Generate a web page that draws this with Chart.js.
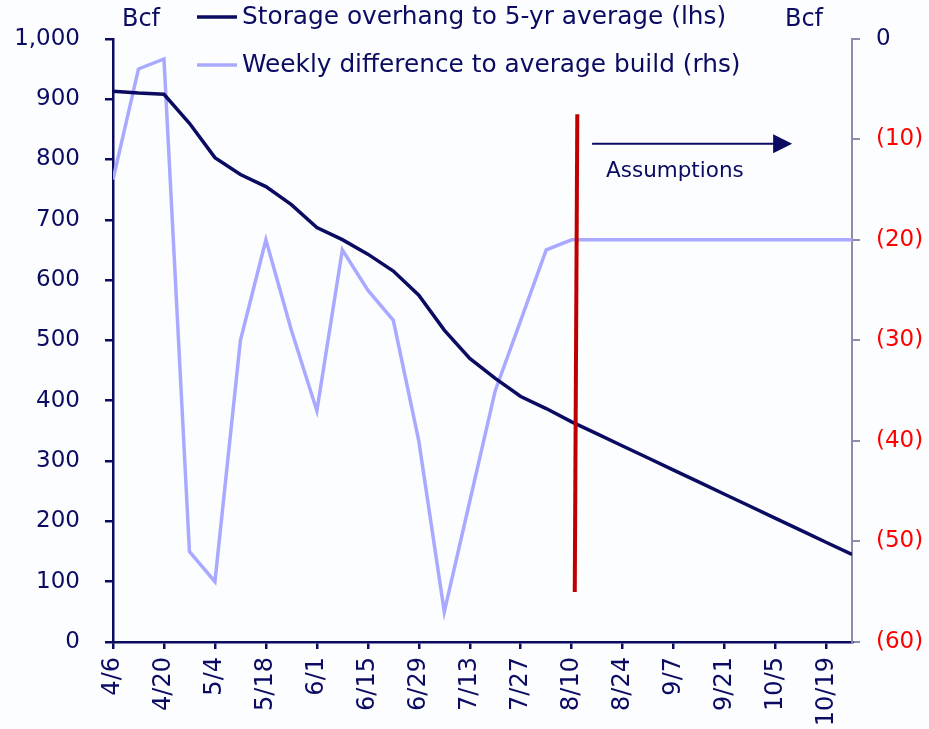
<!DOCTYPE html>
<html>
<head>
<meta charset="utf-8">
<script src="https://cdn.jsdelivr.net/npm/chart.js@4"></script>
<style>
  html, body { margin: 0; padding: 0; background: #fcfdff; }
  #wrap { width: 929px; height: 729px; }
</style>
</head>
<body>
<div id="wrap"><canvas id="myChart" width="929" height="729"></canvas></div>
<script>
// weekly dates
const weeks = ['4/6', '4/13', '4/20', '4/27', '5/4', '5/11', '5/18', '5/25', '6/1', '6/8',
    '6/15', '6/22', '6/29', '7/6', '7/13', '7/20', '7/27', '8/3', '8/10', '8/17',
    '8/24', '8/31', '9/7', '9/14', '9/21', '9/28', '10/5', '10/12', '10/19', '10/26'];

// storage overhang (lhs, Bcf)
const overhang = [913, 910, 908, 860, 803, 775, 755, 725, 687, 667,
    643, 615, 575, 517, 470, 437, 407, 387, 365, 345,
    325, 305, 285, 265, 245, 225, 205, 185, 165, 145];

// weekly difference to average build (rhs, Bcf)
const weeklyDiff = [-14, -3, -2, -51, -54, -30, -20, -29, -37, -21,
    -25, -28, -40, -57, -46, -35, -28, -21, -20, -20,
    -20, -20, -20, -20, -20, -20, -20, -20, -20, -20];

const navy = '#0b0b62';
const lavender = '#a9aaff';
const red = '#ff0000';
const font = "'DejaVu Sans', Verdana, sans-serif";

const toPoints = arr => arr.map((v, i) => ({ x: i, y: v }));

const extras = {
    id: 'extras',
    afterDatasetsDraw(chart) {
        const c = chart.ctx;
        const x = chart.scales.x;
        const y = chart.scales.y;
        c.save();
        // assumptions divider
        c.strokeStyle = '#c00000';
        c.lineWidth = 4;
        c.beginPath();
        c.moveTo(x.getPixelForValue(18.22), y.getPixelForValue(875));
        c.lineTo(x.getPixelForValue(18.12), y.getPixelForValue(83));
        c.stroke();
        // arrow
        const ay = y.getPixelForValue(826);
        const ax0 = x.getPixelForValue(18.8);
        const ax1 = x.getPixelForValue(26.65);
        c.strokeStyle = navy;
        c.fillStyle = navy;
        c.lineWidth = 2;
        c.beginPath();
        c.moveTo(ax0, ay);
        c.lineTo(ax1 - 14, ay);
        c.stroke();
        c.beginPath();
        c.moveTo(ax1, ay);
        c.lineTo(ax1 - 19, ay - 9.5);
        c.lineTo(ax1 - 19, ay + 9.5);
        c.closePath();
        c.fill();
        c.font = '21.5px ' + font;
        c.textAlign = 'center';
        c.textBaseline = 'middle';
        c.fillText('Assumptions', x.getPixelForValue(22.05), y.getPixelForValue(780));

        // unit labels
        c.font = '24px ' + font;
        c.fillText('Bcf', 141, 20);
        c.fillText('Bcf', 804, 20);

        // legend
        const items = [
            { label: 'Storage overhang to 5-yr average (lhs)', color: navy, yy: 17 },
            { label: 'Weekly difference to average build (rhs)', color: lavender, yy: 65 }
        ];
        c.font = '24.8px ' + font;
        c.textAlign = 'left';
        items.forEach(it => {
            c.strokeStyle = it.color;
            c.lineWidth = 3.5;
            c.beginPath();
            c.moveTo(197, it.yy);
            c.lineTo(237, it.yy);
            c.stroke();
            c.fillStyle = navy;
            c.fillText(it.label, 242, it.yy + 1);
        });
        c.restore();
    }
};

const ctx = document.getElementById('myChart').getContext('2d');
const myChart = new Chart(ctx, {
    type: 'line',
    data: {
        datasets: [{
            label: 'Storage overhang to 5-yr average (lhs)',
            data: toPoints(overhang),
            borderColor: navy,
            borderWidth: 3.5,
            pointRadius: 0,
            yAxisID: 'y'
        }, {
            label: 'Weekly difference to average build (rhs)',
            data: toPoints(weeklyDiff),
            borderColor: lavender,
            borderWidth: 3.5,
            pointRadius: 0,
            yAxisID: 'y2'
        }]
    },
    options: {
        responsive: false,
        animation: false,
        layout: { padding: { top: 38, left: 0, right: 0, bottom: 0 } },
        plugins: {
            legend: { display: false },
            tooltip: { enabled: false }
        },
        scales: {
            x: {
                type: 'linear',
                min: 0,
                max: weeks.length - 1,
                afterFit: s => { s.height = 87; },
                border: { color: navy, width: 2.5 },
                grid: { drawOnChartArea: false, tickLength: 7, color: navy, lineWidth: 2.5 },
                ticks: {
                    stepSize: 2,
                    includeBounds: false,
                    autoSkip: false,
                    minRotation: 90,
                    maxRotation: 90,
                    padding: 8,
                    color: navy,
                    font: { family: font, size: 24 },
                    callback: v => weeks[v]
                }
            },
            y: {
                position: 'left',
                min: 0,
                max: 1000,
                afterFit: s => { s.width = 113; },
                border: { color: navy, width: 2.5 },
                grid: { drawOnChartArea: false, tickLength: 8, color: navy, lineWidth: 2.5 },
                ticks: {
                    stepSize: 100,
                    padding: 25,
                    color: navy,
                    font: { family: font, size: 23 },
                    callback: v => v.toLocaleString('en-US')
                }
            },
            y2: {
                position: 'right',
                min: -60,
                max: 0,
                afterFit: s => { s.width = 77; },
                border: { color: '#8c8cab', width: 2 },
                grid: { drawOnChartArea: false, tickLength: 8, color: '#8c8cab', lineWidth: 2 },
                ticks: {
                    stepSize: 10,
                    padding: 16,
                    color: c => c.tick && c.tick.value === 0 ? navy : red,
                    font: { family: font, size: 23 },
                    callback: v => v === 0 ? '0' : '(' + (-v) + ')'
                }
            }
        }
    },
    plugins: [extras]
});
</script>
</body>
</html>
